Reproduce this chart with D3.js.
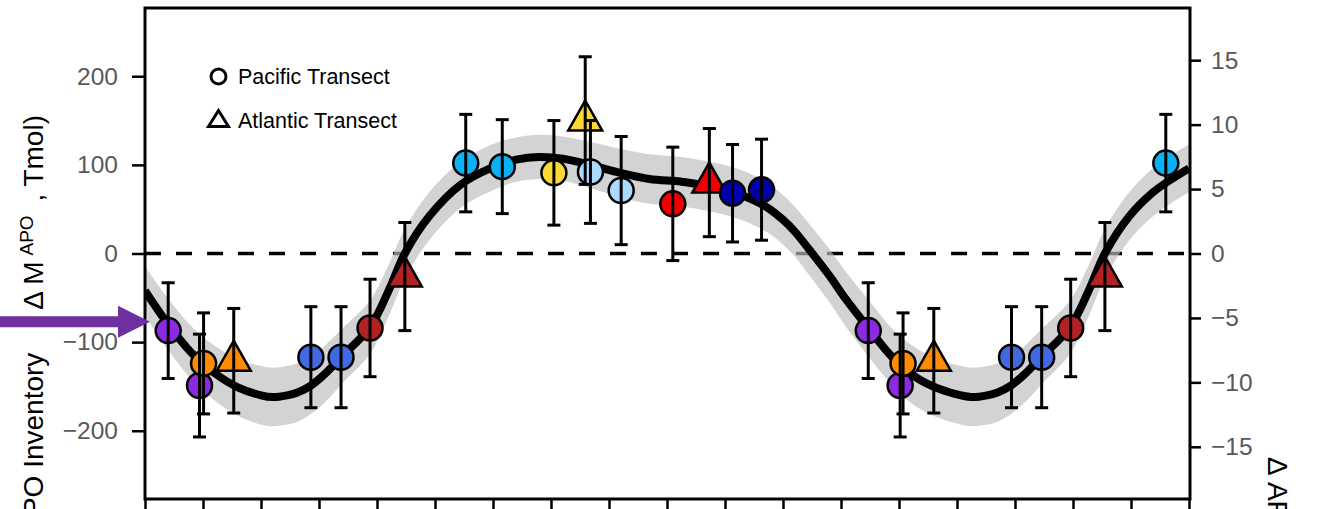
<!DOCTYPE html>
<html>
<head>
<meta charset="utf-8">
<script src="https://cdn.jsdelivr.net/npm/d3@7"></script>
<style>
  body { margin: 0; background: #fff; }
  svg { display: block; font-family: "Liberation Sans", Arial, sans-serif; }
  .axis text { fill: #595959; font-size: 24.5px; }
  .axis line { stroke: #000; stroke-width: 2.5; }
</style>
</head>
<body>
<div id="chart"></div>
<script>
// smooth seasonal fit (months from start of axis, Tmol)
const curveMonths = [0, 0.4, 0.8, 1.2, 1.6, 2.0, 2.2, 2.45, 2.62, 2.86, 3.1, 3.38, 3.88, 4.2, 4.48, 4.9, 5.45, 5.95, 6.4, 6.8, 7.2, 7.67, 8.13, 8.7, 9.25, 9.7, 10.15, 10.5, 10.75, 11.0, 11.2, 11.47, 11.8, 12.1, 12.47, 12.9, 13.3, 13.7, 14.07, 14.27, 14.52, 14.69, 14.93, 15.17, 15.45, 15.95, 16.27, 16.55, 16.97, 17.36, 17.7, 18];
const curveValues = [-42, -80, -112, -135, -151, -160, -162, -160, -157, -149, -136, -117, -83, -42, 0, 42, 78, 96, 106, 109, 107, 100, 92, 84, 81, 76, 69, 60, 51, 38, 25, 3, -25, -53, -84, -118, -140, -153, -160, -162, -160, -157, -149, -136, -117, -83, -42, 0, 42, 68, 84, 96];
const bandHalf = [28, 29, 30, 31, 32, 33, 33, 33, 33, 32, 32, 31, 30, 29, 28, 27, 26, 26, 25, 25, 25, 26, 27, 28, 28, 28, 28, 28, 28, 28, 28, 29, 30, 31, 32, 32, 33, 33, 33, 33, 33, 33, 32, 32, 31, 30, 29, 28, 27, 27, 27, 27];

// observations
const pointMonths = [0.40, 0.94, 1.01, 1.53, 2.86, 3.38, 3.88, 4.48, 5.53, 6.16, 7.05, 7.59, 7.68, 8.21, 9.10, 9.73, 10.13, 10.63, 12.47, 13.02, 13.07, 13.60, 14.94, 15.46, 15.96, 16.55, 17.60];
const pointValues = [-87, -149, -124, -121, -117, -117, -84, -26, 102, 98, 91, 150, 92, 71, 56, 80, 68, 72, -87, -149, -124, -121, -117, -117, -84, -26, 102];
const pointErrors = [54, 58, 57, 59, 57, 57, 55, 61, 55, 53, 59, 72, 58, 61, 64, 61, 55, 57, 54, 58, 57, 59, 57, 57, 55, 61, 55];
const pointGroups = ['g1', 'g1', 'g2', 'g2', 'g3', 'g3', 'g4', 'g4', 'g5', 'g5', 'g6', 'g6', 'g7', 'g7', 'g8', 'g8', 'g9', 'g9', 'g1', 'g1', 'g2', 'g2', 'g3', 'g3', 'g4', 'g4', 'g5'];
const pointTransects = ['P', 'P', 'P', 'A', 'P', 'P', 'P', 'A', 'P', 'P', 'P', 'A', 'P', 'P', 'P', 'A', 'P', 'P', 'P', 'P', 'P', 'A', 'P', 'P', 'P', 'A', 'P'];

const groupKeys = ['g1', 'g2', 'g3', 'g4', 'g5', 'g6', 'g7', 'g8', 'g9'];
const groupColors = ['#8a2be2', '#ff8c00', '#4169e1', '#b22222', '#0cb0f5', '#fdd835', '#abd9ff', '#ee0000', '#0000aa'];

const leftTicks = [-200, -100, 0, 100, 200];
const rightTicks = [-15, -10, -5, 0, 5, 10, 15];
const monthTicks = d3.range(0, 19);

const width = 1319;
const height = 509;
const usableArea = { left: 145, right: 1190, top: 8, bottom: 499 };

const svg = d3.select('#chart').append('svg')
  .attr('width', width)
  .attr('height', height);

const xScale = d3.scaleLinear().domain([0, 18]).range([usableArea.left, usableArea.right - 1]);
const yScale = d3.scaleLinear().domain([-277, 277]).range([usableArea.bottom, usableArea.top]);
const yRight = d3.scaleLinear().domain([-19.05, 19.05]).range([usableArea.bottom, usableArea.top]);
const color = d3.scaleOrdinal().domain(groupKeys).range(groupColors);

svg.append('clipPath').attr('id', 'clip')
  .append('rect')
  .attr('x', usableArea.left)
  .attr('y', usableArea.top)
  .attr('width', usableArea.right - usableArea.left)
  .attr('height', usableArea.bottom - usableArea.top);

const curve = curveMonths.map((m, i) => ({ m, v: curveValues[i], h: bandHalf[i] }));
const points = pointMonths.map((m, i) => ({
  m, v: pointValues[i], e: pointErrors[i], g: pointGroups[i], t: pointTransects[i]
}));

const plot = svg.append('g').attr('clip-path', 'url(#clip)');

// zero line
plot.append('line')
  .attr('x1', usableArea.left).attr('x2', usableArea.right)
  .attr('y1', yScale(0)).attr('y2', yScale(0))
  .attr('stroke', '#000')
  .attr('stroke-width', 3.5)
  .attr('stroke-dasharray', '16,15');

// uncertainty band
const band = d3.area()
  .x((d) => xScale(d.m))
  .y0((d) => yScale(d.v - d.h))
  .y1((d) => yScale(d.v + d.h))
  .curve(d3.curveCatmullRom.alpha(0.5));

plot.append('path')
  .datum(curve)
  .attr('d', band)
  .attr('fill', '#bebebe')
  .attr('fill-opacity', 0.67);

const line = d3.line()
  .x((d) => xScale(d.m))
  .y((d) => yScale(d.v))
  .curve(d3.curveCatmullRom.alpha(0.5));

plot.append('path')
  .datum(curve)
  .attr('d', line)
  .attr('fill', 'none')
  .attr('stroke', '#000')
  .attr('stroke-width', 8);

// markers
const triangle = 'M0,-20L17,10L-17,10Z';
const marks = svg.append('g').attr('class', 'marks');
points.forEach((d) => {
  if (d.t === 'P') {
    marks.append('circle')
      .attr('cx', xScale(d.m))
      .attr('cy', yScale(d.v))
      .attr('r', 12.5)
      .attr('fill', color(d.g))
      .attr('stroke', '#000')
      .attr('stroke-width', 2.5);
  } else {
    marks.append('path')
      .attr('d', triangle)
      .attr('transform', `translate(${xScale(d.m)},${yScale(d.v)})`)
      .attr('fill', color(d.g))
      .attr('stroke', '#000')
      .attr('stroke-width', 2.5)
      .attr('stroke-linejoin', 'miter');
  }
});

// error bars on top of markers
const bars = svg.append('g').attr('stroke', '#000').attr('stroke-width', 3);
points.forEach((d) => {
  const cx = xScale(d.m);
  const top = yScale(d.v + d.e);
  const bot = yScale(d.v - d.e);
  bars.append('line').attr('x1', cx).attr('x2', cx).attr('y1', top).attr('y2', bot);
  bars.append('line').attr('x1', cx - 6.5).attr('x2', cx + 6.5).attr('y1', top).attr('y2', top);
  bars.append('line').attr('x1', cx - 6.5).attr('x2', cx + 6.5).attr('y1', bot).attr('y2', bot);
});

// axes
svg.append('g')
  .attr('class', 'axis')
  .attr('transform', `translate(${usableArea.left},0)`)
  .call(d3.axisLeft(yScale).tickValues(leftTicks).tickSize(13).tickPadding(14))
  .call((g) => g.select('.domain').remove());

svg.append('g')
  .attr('class', 'axis')
  .attr('transform', `translate(${usableArea.right},0)`)
  .call(d3.axisRight(yRight).tickValues(rightTicks).tickSize(11).tickPadding(10))
  .call((g) => g.select('.domain').remove());

svg.append('g')
  .attr('class', 'axis')
  .attr('transform', `translate(0,${usableArea.bottom})`)
  .call(d3.axisBottom(xScale).tickValues(monthTicks).tickSize(12).tickFormat(''))
  .call((g) => g.select('.domain').remove());

// frame
svg.append('rect')
  .attr('x', usableArea.left)
  .attr('y', usableArea.top)
  .attr('width', usableArea.right - usableArea.left)
  .attr('height', usableArea.bottom - usableArea.top)
  .attr('fill', 'none')
  .attr('stroke', '#000')
  .attr('stroke-width', 3);

// legend
const legend = svg.append('g').attr('font-size', 21.5).attr('fill', '#000');
legend.append('circle')
  .attr('cx', 218.5).attr('cy', 76.5).attr('r', 7.5)
  .attr('fill', 'none').attr('stroke', '#000').attr('stroke-width', 3);
legend.append('text').attr('x', 238).attr('y', 83.5).text('Pacific Transect');
legend.append('path')
  .attr('d', 'M0,-8L10,8L-10,8Z')
  .attr('transform', 'translate(218.5,118.5)')
  .attr('fill', 'none').attr('stroke', '#000').attr('stroke-width', 3);
legend.append('text').attr('x', 238).attr('y', 127.5).text('Atlantic Transect');

// axis titles (cut by the picture edge, as in the source figure)
const yTitle = svg.append('text')
  .attr('transform', 'translate(43,115) rotate(-90)')
  .attr('text-anchor', 'end')
  .attr('font-size', 28)
  .attr('fill', '#000');
yTitle.append('tspan').text('Δ APO Inventory');
yTitle.append('tspan').attr('dx', 18).text(' ( Δ M');
yTitle.append('tspan').attr('font-size', 19).attr('dx', 6).attr('dy', -10).text('APO');
yTitle.append('tspan').attr('dx', 6).attr('dy', 10).text(' , Tmol)');

svg.append('text')
  .attr('transform', 'translate(1268,457) rotate(90)')
  .attr('font-size', 28)
  .attr('fill', '#000')
  .text('Δ APO (per meg)');

// arrow pointing at first point
const ay = yScale(-77);
const ax = xScale(0) + 5;
svg.append('path')
  .attr('d', `M0,${ay - 5.5}L${ax - 32},${ay - 5.5}L${ax - 32},${ay - 16}L${ax},${ay}L${ax - 32},${ay + 16}L${ax - 32},${ay + 5.5}L0,${ay + 5.5}Z`)
  .attr('fill', '#7030a0');
</script>
</body>
</html>
